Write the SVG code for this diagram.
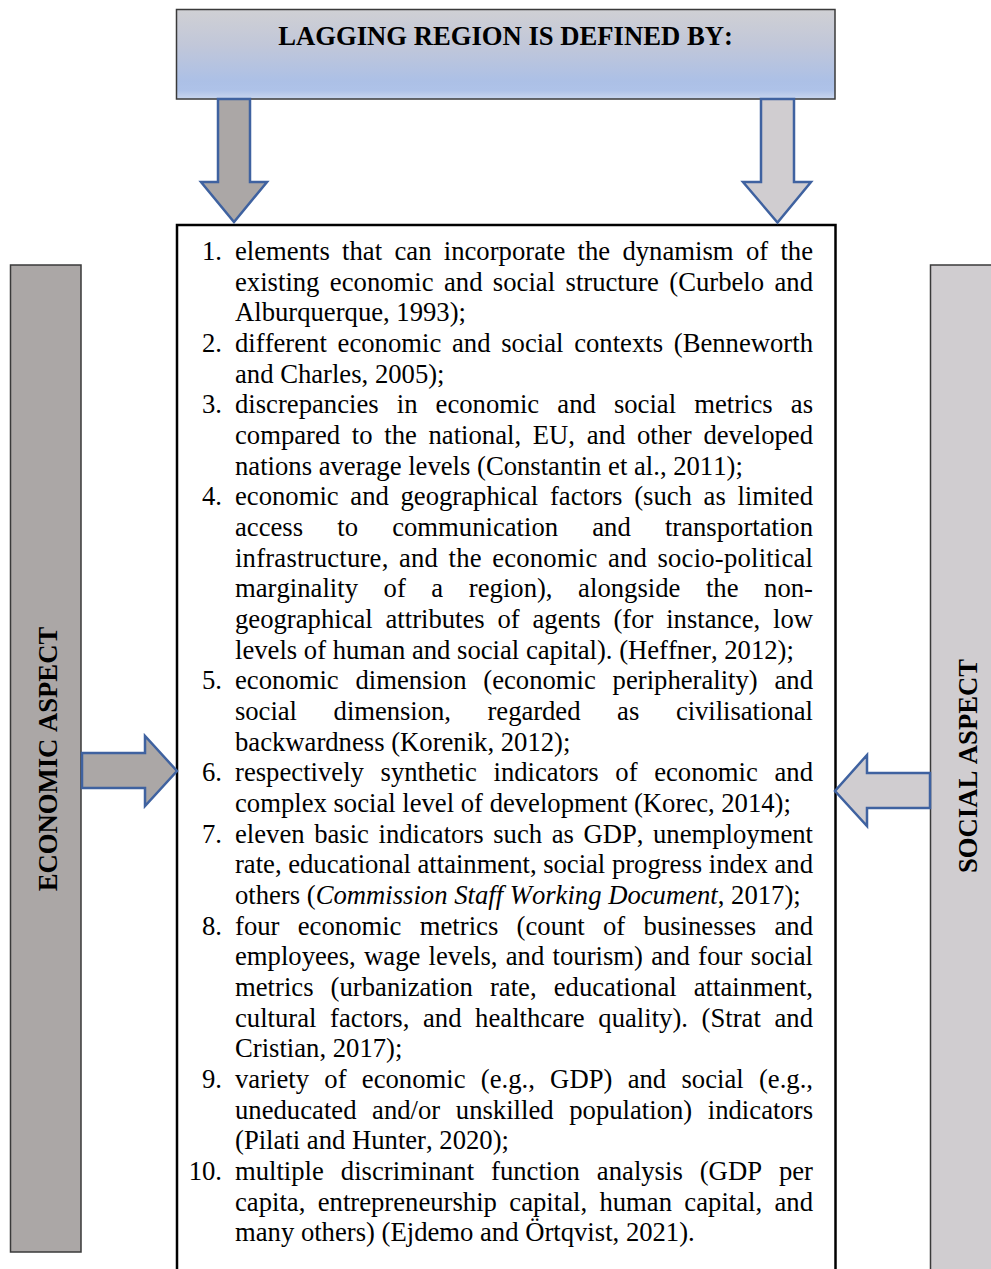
<svg xmlns="http://www.w3.org/2000/svg" width="991" height="1269" viewBox="0 0 991 1269">
  <style>
    .t { font-family: "Liberation Serif", "Times New Roman", serif; font-size: 26.67px; fill: #000; font-kerning: none; }
    .num { text-anchor: end; }
    .b { font-weight: bold; }
    .arrow { stroke: #3F62A0; stroke-width: 2.5; stroke-linejoin: miter; }
    .dark { fill: #ABA7A6; }
    .light { fill: #D0CDD0; }
    .bar { stroke: #3A3A3A; stroke-width: 1.5; }
  </style>
  <defs>
    <linearGradient id="hdr" x1="0" y1="0" x2="0" y2="1">
      <stop offset="0" stop-color="#D0D0D4"/>
      <stop offset="0.4" stop-color="#C1C7D9"/>
      <stop offset="0.8" stop-color="#ACC0E6"/>
      <stop offset="0.9" stop-color="#AEC2E8"/>
      <stop offset="1" stop-color="#C9D6EE"/>
    </linearGradient>
  </defs>
  <rect width="991" height="1269" fill="#FFFFFF"/>

  <g id="header">
    <rect x="176.5" y="9.5" width="658.5" height="89.5" fill="url(#hdr)" stroke="#3A3A3A" stroke-width="1.5"/>
    <text class="t b" x="505.5" y="45" text-anchor="middle">LAGGING REGION IS DEFINED BY:</text>
  </g>

  <g id="economic-aspect">
    <rect class="bar dark" x="10.5" y="265" width="70.5" height="987"/>
    <text class="t b" transform="translate(56.5,759) rotate(-90)" text-anchor="middle">ECONOMIC ASPECT</text>
  </g>

  <g id="social-aspect">
    <rect class="bar light" x="930.5" y="265" width="80" height="1020"/>
    <text class="t b" transform="translate(977,766) rotate(-90)" text-anchor="middle">SOCIAL ASPECT</text>
  </g>

  <g id="definitions">
    <rect x="177" y="225" width="658.5" height="1100" fill="#FFFFFF" stroke="#000000" stroke-width="2.5"/>
    <text class="t num" x="222" y="260">1.</text>
    <text class="t" x="235" y="260" word-spacing="5.64" textLength="578" lengthAdjust="spacing">elements that can incorporate the dynamism of the</text>
    <text class="t" x="235" y="290.7" word-spacing="3.74" textLength="578" lengthAdjust="spacing">existing economic and social structure (Curbelo and</text>
    <text class="t" x="235" y="321.3">Alburquerque, 1993);</text>
    <text class="t num" x="222" y="352">2.</text>
    <text class="t" x="235" y="352" word-spacing="4.05" textLength="578" lengthAdjust="spacing">different economic and social contexts (Benneworth</text>
    <text class="t" x="235" y="382.6">and Charles, 2005);</text>
    <text class="t num" x="222" y="413.3">3.</text>
    <text class="t" x="235" y="413.3" word-spacing="11.43" textLength="578" lengthAdjust="spacing">discrepancies in economic and social metrics as</text>
    <text class="t" x="235" y="444" word-spacing="5.01" textLength="578" lengthAdjust="spacing">compared to the national, EU, and other developed</text>
    <text class="t" x="235" y="474.6">nations average levels (Constantin et al., 2011);</text>
    <text class="t num" x="222" y="505.3">4.</text>
    <text class="t" x="235" y="505.3" word-spacing="4.98" textLength="578" lengthAdjust="spacing">economic and geographical factors (such as limited</text>
    <text class="t" x="235" y="535.9" word-spacing="27.5" textLength="578" lengthAdjust="spacing">access to communication and transportation</text>
    <text class="t" x="235" y="566.6" word-spacing="3.54" textLength="578" lengthAdjust="spacing">infrastructure, and the economic and socio-political</text>
    <text class="t" x="235" y="597.3" word-spacing="18.9" textLength="578" lengthAdjust="spacing">marginality of a region), alongside the non-</text>
    <text class="t" x="235" y="627.9" word-spacing="6.09" textLength="578" lengthAdjust="spacing">geographical attributes of agents (for instance, low</text>
    <text class="t" x="235" y="658.6">levels of human and social capital). (Heffner, 2012);</text>
    <text class="t num" x="222" y="689.2">5.</text>
    <text class="t" x="235" y="689.2" word-spacing="10.06" textLength="578" lengthAdjust="spacing">economic dimension (economic peripherality) and</text>
    <text class="t" x="235" y="719.9" word-spacing="30.1" textLength="578" lengthAdjust="spacing">social dimension, regarded as civilisational</text>
    <text class="t" x="235" y="750.6">backwardness (Korenik, 2012);</text>
    <text class="t num" x="222" y="781.2">6.</text>
    <text class="t" x="235" y="781.2" word-spacing="9.97" textLength="578" lengthAdjust="spacing">respectively synthetic indicators of economic and</text>
    <text class="t" x="235" y="811.9">complex social level of development (Korec, 2014);</text>
    <text class="t num" x="222" y="842.5">7.</text>
    <text class="t" x="235" y="842.5" word-spacing="2.88" textLength="578" lengthAdjust="spacing">eleven basic indicators such as GDP, unemployment</text>
    <text class="t" x="235" y="873.2" textLength="578" lengthAdjust="spacing">rate, educational attainment, social progress index and</text>
    <text class="t" x="235" y="903.9">others (<tspan font-style="italic">Commission Staff Working Document</tspan>, 2017);</text>
    <text class="t num" x="222" y="934.5">8.</text>
    <text class="t" x="235" y="934.5" word-spacing="11.6" textLength="578" lengthAdjust="spacing">four economic metrics (count of businesses and</text>
    <text class="t" x="235" y="965.2" word-spacing="1.62" textLength="578" lengthAdjust="spacing">employees, wage levels, and tourism) and four social</text>
    <text class="t" x="235" y="995.8" word-spacing="10.4" textLength="578" lengthAdjust="spacing">metrics (urbanization rate, educational attainment,</text>
    <text class="t" x="235" y="1026.5" word-spacing="6.96" textLength="578" lengthAdjust="spacing">cultural factors, and healthcare quality). (Strat and</text>
    <text class="t" x="235" y="1057.2">Cristian, 2017);</text>
    <text class="t num" x="222" y="1087.8">9.</text>
    <text class="t" x="235" y="1087.8" word-spacing="8.6" textLength="578" lengthAdjust="spacing">variety of economic (e.g., GDP) and social (e.g.,</text>
    <text class="t" x="235" y="1118.5" word-spacing="8.9" textLength="578" lengthAdjust="spacing">uneducated and/or unskilled population) indicators</text>
    <text class="t" x="235" y="1149.1">(Pilati and Hunter, 2020);</text>
    <text class="t num" x="222" y="1179.8">10.</text>
    <text class="t" x="235" y="1179.8" word-spacing="10.3" textLength="578" lengthAdjust="spacing">multiple discriminant function analysis (GDP per</text>
    <text class="t" x="235" y="1210.5" word-spacing="5.7" textLength="578" lengthAdjust="spacing">capita, entrepreneurship capital, human capital, and</text>
    <text class="t" x="235" y="1241.1">many others) (Ejdemo and Örtqvist, 2021).</text>
  </g>

  <g id="connectors">
    <polygon class="arrow dark" points="218,99 250,99 250,182 267,182 234,222 201,182 218,182"/>
    <polygon class="arrow light" points="761,99 794,99 794,182 811,182 777.5,222.5 743,182 761,182"/>
    <polygon class="arrow dark" points="82,753 145,753 145,736 177,771 145,806 145,788 82,788"/>
    <polygon class="arrow light" points="930,773 867,773 867,755 835,791 867,826 867,808 930,808"/>
  </g>
</svg>
